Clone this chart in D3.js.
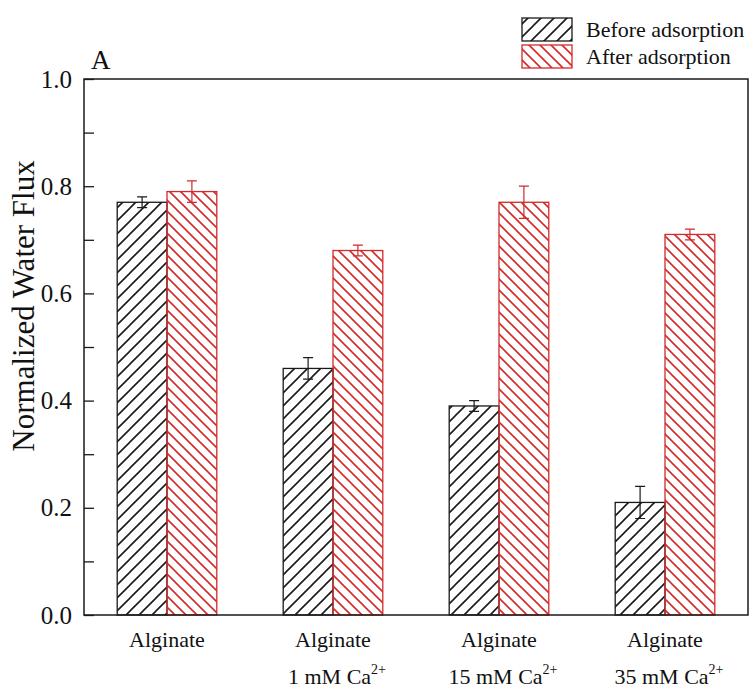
<!DOCTYPE html>
<html>
<head>
<meta charset="utf-8">
<script src="https://cdn.jsdelivr.net/npm/d3@7"></script>
<style>
  body { margin: 0; background: #fff; }
  svg text { font-family: "Liberation Serif", "Times New Roman", serif; fill: #111; }
</style>
</head>
<body>
<div id="viz"></div>
<script>
const width = 752;
const height = 688;
const margin = {top: 79, right: 4, bottom: 73, left: 84};

// data
const groups = ['Alginate', 'Alginate 1 mM', 'Alginate 15 mM', 'Alginate 35 mM'];
const labelLine1 = ['Alginate', 'Alginate', 'Alginate', 'Alginate'];
const labelLine2 = ['', '1 mM Ca', '15 mM Ca', '35 mM Ca'];
const seriesNames = ['Before adsorption', 'After adsorption'];
const beforeValues = [0.77, 0.46, 0.39, 0.21];
const beforeErrors = [0.01, 0.02, 0.01, 0.03];
const afterValues = [0.79, 0.68, 0.77, 0.71];
const afterErrors = [0.02, 0.01, 0.03, 0.01];
const yTicks = [0, 0.1, 0.2, 0.3, 0.4, 0.5, 0.6, 0.7, 0.8, 0.9, 1.0];

const black = '#1a1a1a';
const red = '#d42a2a';
const serif = '"Liberation Serif", "Times New Roman", serif';

const svg = d3.select('#viz')
  .append('svg')
  .attr('width', width)
  .attr('height', height);

// hatch patterns
const defs = svg.append('defs');
const hatch = (id, size, color, forward) => {
  const p = defs.append('pattern')
    .attr('id', id)
    .attr('patternUnits', 'userSpaceOnUse')
    .attr('width', size)
    .attr('height', size);
  const s = size;
  const d = forward
    ? `M-1,1 l2,-2 M0,${s} l${s},${-s} M${s - 1},${s + 1} l2,-2`
    : `M-1,${s - 1} l2,2 M0,0 l${s},${s} M${s - 1},-1 l2,2`;
  p.append('path')
    .attr('d', d)
    .attr('stroke', color)
    .attr('stroke-width', 1.6);
};
hatch('hatchBefore', 13, black, true);
hatch('hatchAfter', 11, red, false);

const x = d3.scaleBand()
  .domain(groups)
  .range([margin.left, width - margin.right])
  .paddingInner(0.4)
  .paddingOuter(0.2);

const xSub = d3.scaleBand()
  .domain(seriesNames)
  .range([0, x.bandwidth()]);

const y = d3.scaleLinear()
  .domain([0, 1])
  .range([height - margin.bottom, margin.top]);

const series = [
  {name: seriesNames[0], values: beforeValues, errors: beforeErrors, color: black, fill: 'url(#hatchBefore)'},
  {name: seriesNames[1], values: afterValues, errors: afterErrors, color: red, fill: 'url(#hatchAfter)'}
];

// bars
series.forEach(s => {
  const g = svg.append('g');
  g.selectAll('rect')
    .data(groups)
    .join('rect')
    .attr('x', (d, i) => x(d) + xSub(s.name))
    .attr('y', (d, i) => y(s.values[i]))
    .attr('width', xSub.bandwidth())
    .attr('height', (d, i) => y(0) - y(s.values[i]))
    .attr('fill', s.fill)
    .attr('stroke', s.color)
    .attr('stroke-width', 1.3);

  // error bars
  const cx = d => x(d) + xSub(s.name) + xSub.bandwidth() / 2;
  g.selectAll('path.err')
    .data(groups)
    .join('path')
    .attr('class', 'err')
    .attr('d', (d, i) => {
      const top = y(s.values[i] + s.errors[i]);
      const bot = y(s.values[i] - s.errors[i]);
      const c = cx(d);
      return `M${c - 5},${top} H${c + 5} M${c},${top} V${bot} M${c - 5},${bot} H${c + 5}`;
    })
    .attr('fill', 'none')
    .attr('stroke', s.color)
    .attr('stroke-width', 1.2);
});

// y axis with inward ticks
const yAxis = d3.axisLeft(y)
  .tickValues(yTicks)
  .tickSizeInner(-10)
  .tickSizeOuter(0)
  .tickPadding(12)
  .tickFormat(d => (Math.round(d * 10) % 2 === 0) ? d3.format('.1f')(d) : '');

svg.append('g')
  .attr('transform', `translate(${margin.left},0)`)
  .call(yAxis)
  .call(g => g.select('.domain').remove())
  .call(g => g.selectAll('line').attr('stroke', black).attr('stroke-width', 1.3))
  .call(g => g.selectAll('text')
    .attr('fill', '#222')
    .style('font-family', serif)
    .style('font-size', '25px'));

// frame
svg.append('rect')
  .attr('x', margin.left)
  .attr('y', margin.top)
  .attr('width', width - margin.right - margin.left)
  .attr('height', height - margin.bottom - margin.top)
  .attr('fill', 'none')
  .attr('stroke', black)
  .attr('stroke-width', 1.5);

// x labels
const xl = svg.append('g');
xl.selectAll('text.l1')
  .data(groups)
  .join('text')
  .attr('class', 'l1')
  .attr('x', d => x(d) + x.bandwidth() / 2)
  .attr('y', 647)
  .attr('text-anchor', 'middle')
  .style('font-size', '22px')
  .text((d, i) => labelLine1[i]);

const l2 = xl.selectAll('text.l2')
  .data(groups.filter((d, i) => labelLine2[i]))
  .join('text')
  .attr('class', 'l2')
  .attr('x', d => x(d) + x.bandwidth() / 2 + 4)
  .attr('y', 684)
  .attr('text-anchor', 'middle')
  .style('font-size', '22px');
l2.append('tspan').text(d => labelLine2[groups.indexOf(d)]);
l2.append('tspan')
  .attr('dy', -10)
  .style('font-size', '14px')
  .text('2+');

// y title
svg.append('text')
  .attr('transform', `translate(34,306) rotate(-90)`)
  .attr('text-anchor', 'middle')
  .style('font-size', '31px')
  .text('Normalized Water Flux');

// panel letter
svg.append('text')
  .attr('x', 91)
  .attr('y', 69)
  .style('font-size', '27px')
  .text('A');

// legend
const legend = svg.append('g');
series.forEach((s, i) => {
  legend.append('rect')
    .attr('x', 522)
    .attr('y', 18 + i * 27)
    .attr('width', 50)
    .attr('height', 23)
    .attr('fill', s.fill)
    .attr('stroke', s.color)
    .attr('stroke-width', 1.3);
  legend.append('text')
    .attr('x', 586)
    .attr('y', 37 + i * 27)
    .style('font-size', '22px')
    .text(s.name);
});
</script>
</body>
</html>
